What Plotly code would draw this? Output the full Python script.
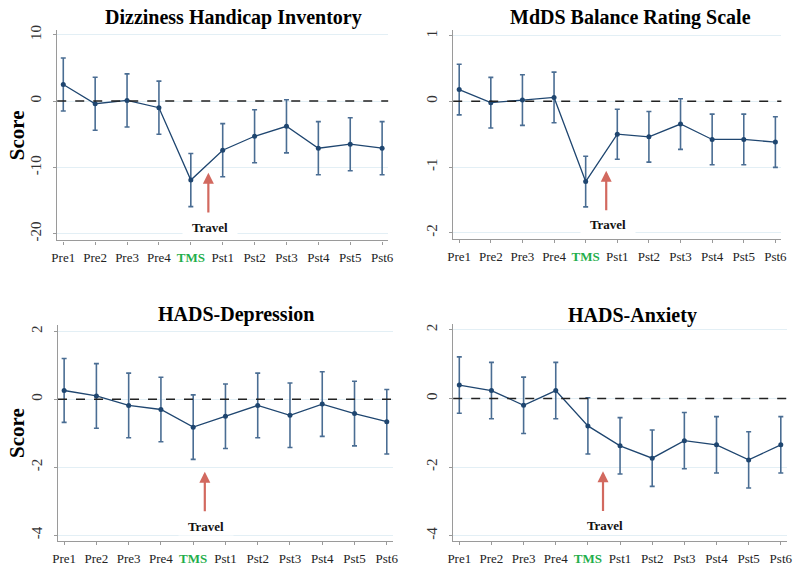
import plotly.graph_objects as go
from plotly.subplots import make_subplots

categories = ["Pre1", "Pre2", "Pre3", "Pre4", "TMS", "Pst1", "Pst2", "Pst3", "Pst4", "Pst5", "Pst6"]

titles = ["Dizziness Handicap Inventory", "MdDS Balance Rating Scale", "HADS-Depression", "HADS-Anxiety"]

dhi_mean = [2.5, -0.4, 0.1, -1.0, -11.9, -7.4, -5.3, -3.8, -7.1, -6.5, -7.1]
dhi_err = [4.0, 4.0, 4.0, 4.0, 4.0, 4.0, 4.0, 4.0, 4.0, 4.0, 4.0]

mbrs_mean = [0.18, -0.02, 0.02, 0.06, -1.22, -0.5, -0.54, -0.345, -0.58, -0.58, -0.62]
mbrs_err = [0.385, 0.385, 0.385, 0.385, 0.385, 0.38, 0.385, 0.385, 0.385, 0.385, 0.385]

dep_mean = [0.26, 0.1, -0.18, -0.3, -0.82, -0.5, -0.18, -0.47, -0.14, -0.42, -0.66]
dep_err = [0.94, 0.95, 0.95, 0.95, 0.95, 0.95, 0.95, 0.95, 0.95, 0.95, 0.95]

anx_mean = [0.39, 0.23, -0.2, 0.23, -0.8, -1.38, -1.74, -1.23, -1.35, -1.79, -1.35]
anx_err = [0.82, 0.82, 0.82, 0.82, 0.82, 0.82, 0.82, 0.82, 0.82, 0.82, 0.82]

y_ticks = [[10, 0, -10, -20], [1, 0, -1, -2], [2, 0, -2, -4], [2, 0, -2, -4]]
y_ranges = [[-21.0, 10.75], [-2.1, 1.09], [-4.18, 2.2], [-4.16, 2.18]]

# Travel arrow: x position, tip y, tail y, text y
travel_x = [4.55, 4.65, 4.36, 4.47]
travel_tip = [-10.8, -1.055, -2.13, -2.12]
travel_tail = [-17.0, -1.68, -3.34, -3.32]
travel_text_y = [-19.1, -1.88, -3.75, -3.7]

means = [dhi_mean, mbrs_mean, dep_mean, anx_mean]
errs = [dhi_err, mbrs_err, dep_err, anx_err]

x_domains = [[0.065, 0.485], [0.5675, 0.984], [0.066, 0.491], [0.5675, 0.991]]
y_domains = [[0.581, 0.956], [0.583, 0.956], [0.0458, 0.4313], [0.0458, 0.4331]]
title_px = [(231, 12.5), (634, 12.5), (233.5, 313), (636, 314)]

fig = make_subplots(rows=2, cols=2)

line_col = "#1f4670"
err_col = "#4a6d93"
serif = "Liberation Serif, Times New Roman, serif"
xpos = list(range(len(categories)))
ticktext = [("<b><span style='color:#1fae4b'>TMS</span></b>" if c == "TMS" else c) for c in categories]

for i in range(4):
    r, c = i // 2 + 1, i % 2 + 1
    fig.add_trace(go.Scatter(
        x=xpos, y=means[i], mode="lines+markers",
        line=dict(color=line_col, width=1.3),
        marker=dict(color=line_col, size=5),
        error_y=dict(type="data", array=errs[i], visible=True, color=err_col, thickness=1.6, width=2.5),
        showlegend=False, hoverinfo="skip"), row=r, col=c)

    xa = "xaxis" if i == 0 else f"xaxis{i+1}"
    ya = "yaxis" if i == 0 else f"yaxis{i+1}"
    xr = "x" if i == 0 else f"x{i+1}"
    yr = "y" if i == 0 else f"y{i+1}"
    fig.layout[xa].update(
        domain=x_domains[i], range=[-0.19, 10.19], tickmode="array", tickvals=xpos, ticktext=ticktext,
        showgrid=False, zeroline=False, showline=True, linecolor="#9a9a9a", linewidth=1.2,
        ticks="outside", ticklen=3, tickcolor="#9a9a9a", ticklabelstandoff=2,
        tickfont=dict(family=serif, size=13, color="#222222"), tickangle=0, fixedrange=True)
    fig.layout[ya].update(
        domain=y_domains[i], range=y_ranges[i], tickmode="array", tickvals=y_ticks[i],
        ticktext=[("-" + str(abs(v))) if v < 0 else str(v) for v in y_ticks[i]],
        showgrid=True, gridcolor="#e3eff5", gridwidth=1, zeroline=False,
        showline=True, linecolor="#9a9a9a", linewidth=1.2,
        ticks="outside", ticklen=3, tickcolor="#9a9a9a", tickangle=-90, ticklabelstandoff=6,
        tickfont=dict(family=serif, size=15, color="#333333"), fixedrange=True)

    # dashed zero line
    fig.add_shape(type="line", xref=f"{xr} domain", yref=yr, x0=0, x1=1, y0=0, y1=0,
                  line=dict(color="#222222", width=1.5, dash="dash"))

    # travel arrow
    fig.add_annotation(x=travel_x[i], y=travel_tip[i], ax=travel_x[i], ay=travel_tail[i],
                       xref=xr, yref=yr, axref=xr, ayref=yr, showarrow=True,
                       arrowhead=2, arrowsize=1.0, arrowwidth=2.2, arrowcolor="#d2695f", text="")
    fig.add_annotation(x=travel_x[i] + 0.05, y=travel_text_y[i], xref=xr, yref=yr, showarrow=False,
                       text="<b>Travel</b>", font=dict(family=serif, size=13, color="#111111"),
                       bgcolor="white", width=52, borderpad=1)

    # title
    tx, ty = title_px[i]
    fig.add_annotation(x=tx / 800, y=1 - ty / 568, xref="paper", yref="paper", showarrow=False,
                       text=f"<b>{titles[i]}</b>", font=dict(family=serif, size=20, color="#000000"),
                       xanchor="center", yanchor="middle")

# Score labels
for yd in [y_domains[0], y_domains[2]]:
    fig.add_annotation(x=0.014, y=(yd[0] + yd[1]) / 2, xref="paper", yref="paper", showarrow=False,
                       text="<b>Score</b>", textangle=-90, font=dict(family=serif, size=21, color="#000000"),
                       xanchor="center", yanchor="middle")

fig.update_layout(width=800, height=568, margin=dict(l=0, r=0, t=0, b=0),
                  paper_bgcolor="white", plot_bgcolor="white")

fig.write_html("out.html", config={"displayModeBar": False},
               post_script="document.body.style.margin='0px';")
